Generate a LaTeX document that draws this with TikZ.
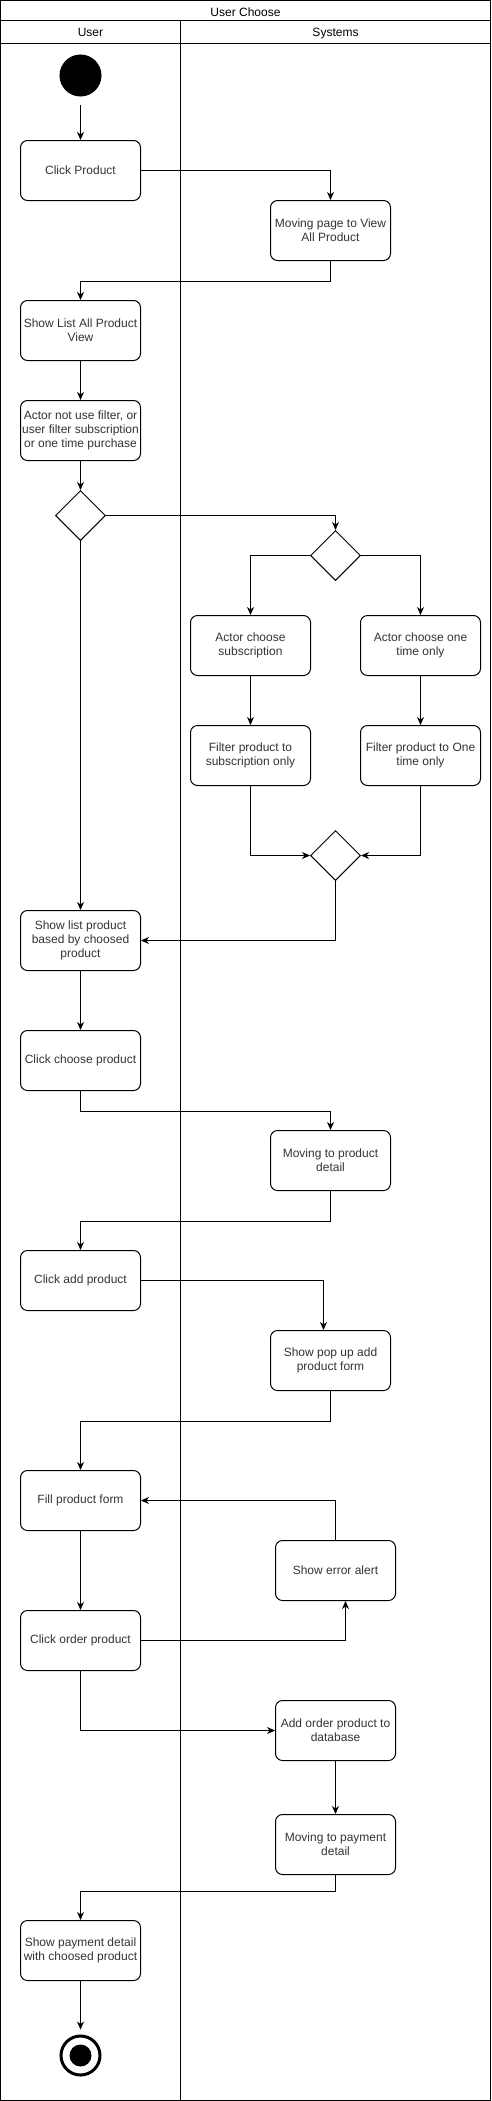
\documentclass[tikz,border=0pt]{standalone}
\usepackage{fontspec}
\setmainfont{Liberation Sans}
\usetikzlibrary{arrows.meta,shapes.geometric}
\definecolor{boxtext}{HTML}{333333}

\begin{document}
\begin{tikzpicture}[x=1pt,y=-1pt,line width=1pt,
    >={Stealth[length=8pt,width=7pt,inset=2.5pt]},
    act/.style={draw,rounded corners=7pt,minimum width=120pt,minimum height=60pt,inner sep=1pt,align=center,text=boxtext,font=\fontsize{12}{14}\selectfont},
    choice/.style={draw,diamond,minimum width=50pt,minimum height=50pt,inner sep=0pt},
    startnode/.style={circle,fill,minimum size=42pt,inner sep=0pt},
    endnode/.style={circle,draw,line width=3pt,minimum size=39pt,inner sep=0pt,path picture={\fill (path picture bounding box.center) circle (11pt);}},
    lane/.style={anchor=base,inner sep=0pt,font=\fontsize{12}{14}\selectfont}]
  \useasboundingbox (-0.5,-0.5) rectangle (490.5,2100.5);

  \draw (0,0) rectangle (490,2100);
  \draw (0,20) -- (490,20);
  \draw (0,43) -- (490,43);
  \draw (180,20) -- (180,2100);
  \node[lane] (title) at (245,16.5) {User Choose};
  \node[lane] (userlane) at (90,36.5) {User};
  \node[lane] (syslane) at (335,36.5) {Systems};

  \node[startnode] (start) at (80,75) {};
  \node[act] (clickprod) at (80,170) {Click Product};
  \node[act] (movview) at (330,230) {Moving page to View\\All Product};
  \node[act] (showlist) at (80,330) {Show List All Product\\View};
  \node[act] (actornot) at (80,430) {Actor not use filter, or\\user filter subscription\\or one time purchase};
  \node[choice] (dec1) at (80,515) {};
  \node[choice] (dec2) at (335,555) {};
  \node[act] (actsub) at (250,645) {Actor choose\\subscription};
  \node[act] (actone) at (420,645) {Actor choose one\\time only};
  \node[act] (filsub) at (250,755) {Filter product to\\subscription only};
  \node[act] (filone) at (420,755) {Filter product to One\\time only};
  \node[choice] (merge) at (335,855) {};
  \node[act] (showbased) at (80,940) {Show list product\\based by choosed\\product};
  \node[act] (clickchoose) at (80,1060) {Click choose product};
  \node[act] (movdetail) at (330,1160) {Moving to product\\detail};
  \node[act] (clickadd) at (80,1280) {Click add product};
  \node[act] (popup) at (330,1360) {Show pop up add\\product form};
  \node[act] (fill) at (80,1500) {Fill product form};
  \node[act] (error) at (335,1570) {Show error alert};
  \node[act] (clickorder) at (80,1640) {Click order product};
  \node[act] (addorder) at (335,1730) {Add order product to\\database};
  \node[act] (movpay) at (335,1844) {Moving to payment\\detail};
  \node[act] (showpay) at (80,1950) {Show payment detail\\with choosed product};
  \node[endnode] (end) at (80,2055) {};

  \draw[->,shorten <=7.5pt] (start) -- (clickprod);
  \draw[->] (clickprod) -| (movview);
  \draw[->] (movview.south) -- ++(0,20) -| (showlist.north);
  \draw[->] (showlist) -- (actornot);
  \draw[->] (actornot) -- (dec1);
  \draw[->] (dec1) -| (dec2);
  \draw[->] (dec2) -| (actsub);
  \draw[->] (dec2) -| (actone);
  \draw[->] (actsub) -- (filsub);
  \draw[->] (actone) -- (filone);
  \draw[->] (filsub) |- (merge);
  \draw[->] (filone) |- (merge);
  \draw[->] (merge) |- (showbased);
  \draw[->] (dec1) -- (showbased);
  \draw[->] (showbased) -- (clickchoose);
  \draw[->] (clickchoose.south) -- ++(0,20) -| (movdetail.north);
  \draw[->] (movdetail.south) -- ++(0,30) -| (clickadd.north);
  \draw[->] (clickadd.east) -| ([xshift=-7pt]popup.north);
  \draw[->] (popup.south) -- ++(0,30) -| (fill.north);
  \draw[->] (fill) -- (clickorder);
  \draw[->] (error) |- (fill);
  \draw[->] (clickorder.east) -| ([xshift=10pt]error.south);
  \draw[->] (clickorder) |- (addorder);
  \draw[->] (addorder) -- (movpay);
  \draw[->] (movpay.south) -- ++(0,16) -| (showpay.north);
  \draw[->,shorten >=5pt] (showpay) -- (end);
\end{tikzpicture}
\end{document}
